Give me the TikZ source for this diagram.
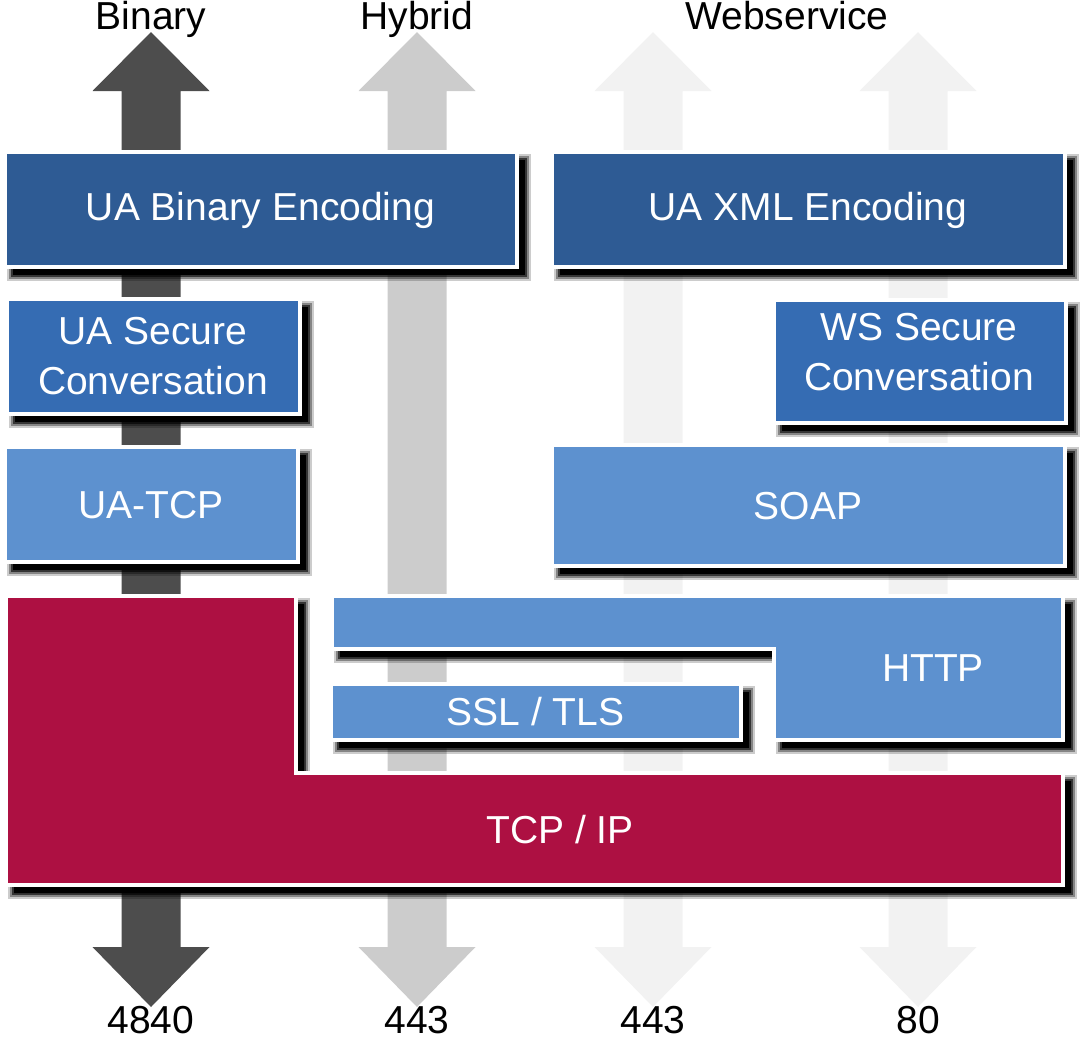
\documentclass[tikz,border=0pt]{standalone}
\usepackage{fontspec}
\setmainfont{Liberation Sans}
\usepackage{tikz}

\definecolor{enccol}{HTML}{2E5B94}
\definecolor{seccol}{HTML}{356CB3}
\definecolor{laycol}{HTML}{5D91CF}
\definecolor{tcpcol}{HTML}{AD1042}
\definecolor{darkarr}{HTML}{4D4D4D}
\definecolor{midarr}{HTML}{CCCCCC}
\definecolor{lightarr}{HTML}{F2F2F2}

\tikzset{
	bigfont/.style={font=\fontsize{39}{50}\selectfont},
	shadowfill/.style={preaction={fill=black, draw=none, transform canvas={shift={(8pt,-8pt)}}}},
	shadowring/.style 2 args={preaction={draw=black, fill=none, line width=#1, opacity=#2, transform canvas={shift={(8pt,-8pt)}}}},
	layer/.style={shadowfill, shadowring={4pt}{.6}, shadowring={8pt}{.35}, shadowring={12pt}{.2}, draw=white, line width=4pt},
	txt/.style={bigfont, text=white, inner sep=0pt, text height=28pt, text depth=0pt},
	box/.style={layer, txt, rectangle},
	lbl/.style={bigfont, anchor=base, inner sep=0pt},
}

\begin{document}
\begin{tikzpicture}[x=1pt, y=-1pt]
	\useasboundingbox (0,0) rectangle (1088,1037);
	\foreach[count=\i] \cx/\acol/\top/\bot in {151/darkarr/Binary/4840, 417/midarr/Hybrid/443, 653/lightarr/{}/443, 918/lightarr/{}/80} {
		\fill[\acol] (\cx,32) -- (\cx+58.5,91) -- (\cx+29.5,91) -- (\cx+29.5,947) -- (\cx+58.5,947)
			-- (\cx,1007) -- (\cx-58.5,947) -- (\cx-29.5,947) -- (\cx-29.5,91) -- (\cx-58.5,91) -- cycle;
		\node[lbl] (top-\i) at (\cx,29) {\top};
		\node[lbl] (port-\i) at (\cx,1033) {\bot};
	}
	\node[lbl] (ws) at (787,29) {Webservice};

	\node[box, fill=enccol, text depth=6pt, minimum width=512pt, minimum height=115pt] (binenc) at (260.5,209) {UA Binary Encoding};
	\node[box, fill=enccol, text depth=6pt, minimum width=513pt, minimum height=115pt] (xmlenc) at (808,209) {UA XML Encoding};
	\node[box, fill=seccol, minimum width=293pt, minimum height=115pt] (uasec) at (153,356) {};
	\node[bigfont, text=white, align=center, inner sep=0pt] (uasec-t) at (uasec.center) {UA Secure\\Conversation};
	\node[box, fill=seccol, minimum width=292pt, minimum height=123pt] (wssec) at (919.5,361) {};
	\node[bigfont, text=white, align=center, inner sep=0pt] (wssec-t) at (919,352) {WS Secure\\Conversation};
	\node[box, fill=laycol, minimum width=293pt, minimum height=115pt] (uatcp) at (151,504) {UA-TCP};
	\node[box, fill=laycol, minimum width=513pt, minimum height=121pt] (soap) at (808,505) {SOAP};

	\path[layer, fill=laycol] (332,596) -- (1063,596) -- (1063,740) -- (774,740) -- (774,649) -- (332,649) -- cycle;
	\node[txt] (http) at (933,667) {HTTP};
	\node[box, fill=laycol, minimum width=410pt, minimum height=56pt] (ssl) at (535.5,711.5) {SSL / TLS};

	\path[layer, fill=tcpcol] (6,596) -- (296,596) -- (296,773) -- (1063,773) -- (1063,885) -- (6,885) -- cycle;
	\node[txt] (tcpip) at (560,829) {TCP / IP};
\end{tikzpicture}
\end{document}
